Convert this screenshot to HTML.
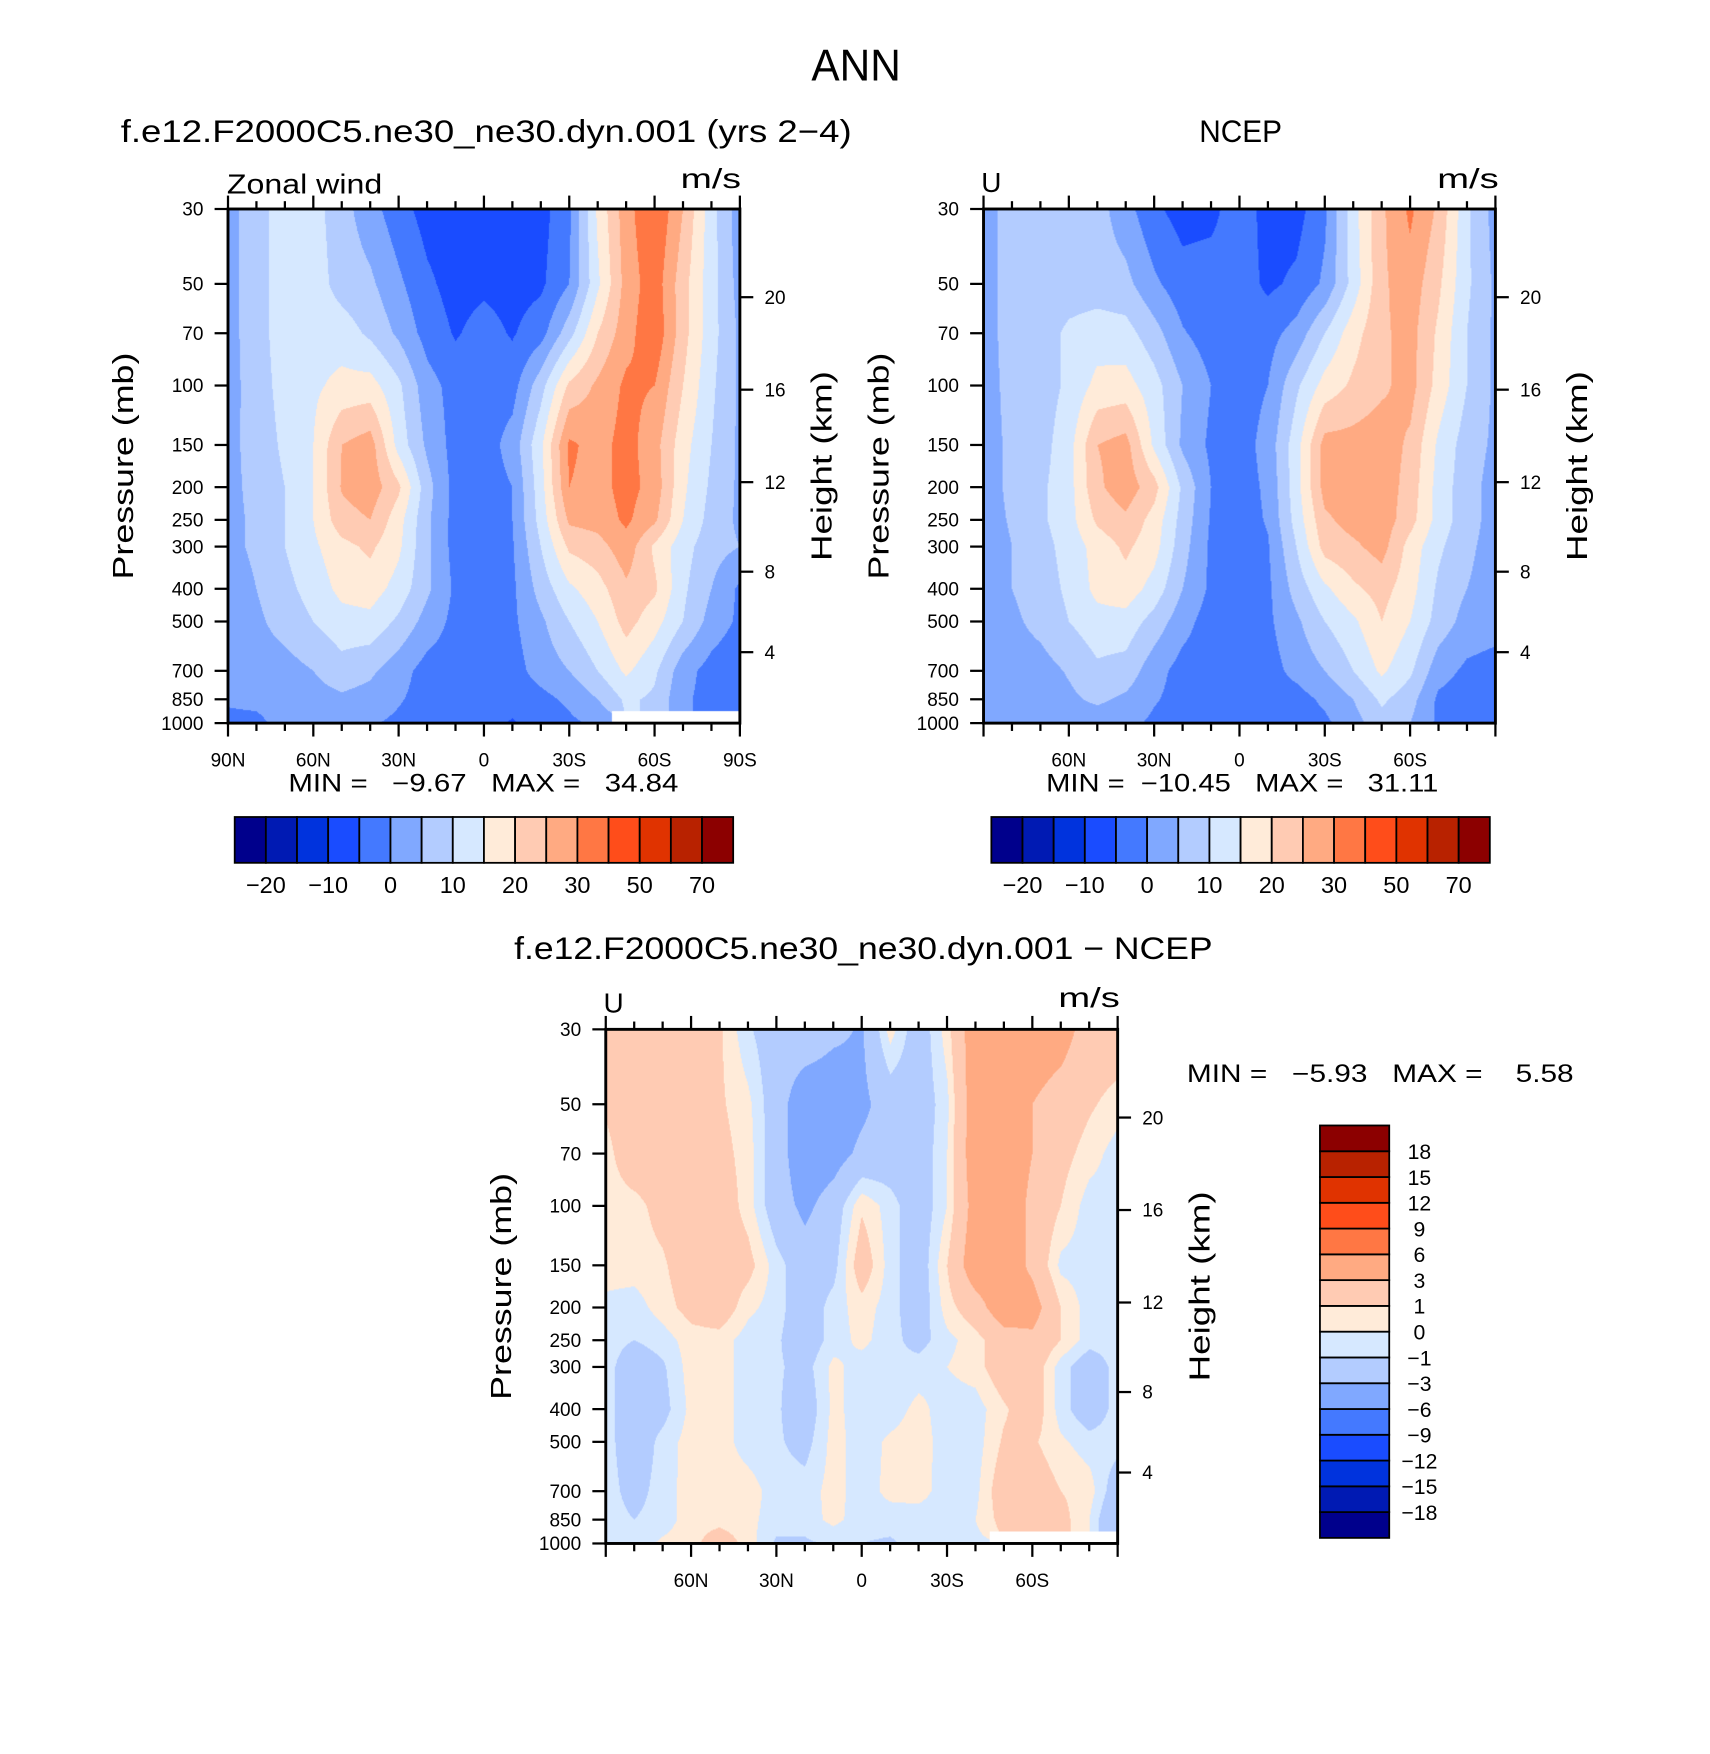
<!DOCTYPE html>
<html><head><meta charset="utf-8">
<style>
html,body{margin:0;padding:0;background:#fff;width:1710px;height:1753px;overflow:hidden}
#stage{position:absolute;left:0;top:0;width:1530px;height:1569px;transform:scale(1.117647);transform-origin:0 0}
canvas{position:absolute}
svg{position:absolute;left:0;top:0}
text{font-family:"Liberation Sans",sans-serif;fill:#000}
</style></head>
<body>
<div id="stage">
<canvas id="cv1" width="512" height="514" style="left:204px;top:187px;width:458px;height:460px"></canvas>
<canvas id="cv2" width="512" height="514" style="left:880px;top:187px;width:458px;height:460px"></canvas>
<canvas id="cv3" width="512" height="514" style="left:542px;top:921px;width:458px;height:460px"></canvas>
<svg id="svg" width="1530" height="1569" viewBox="0 0 1530 1569">
<text x="766" y="72" font-size="40" text-anchor="middle" textLength="80" lengthAdjust="spacingAndGlyphs">ANN</text>
<text x="108" y="127" font-size="28" textLength="654" lengthAdjust="spacingAndGlyphs">f.e12.F2000C5.ne30_ne30.dyn.001 (yrs 2−4)</text>
<text x="1073" y="127" font-size="28" textLength="74" lengthAdjust="spacingAndGlyphs">NCEP</text>
<text x="460" y="858" font-size="28" textLength="625" lengthAdjust="spacingAndGlyphs">f.e12.F2000C5.ne30_ne30.dyn.001 − NCEP</text>
<text x="203" y="173" font-size="25" textLength="139" lengthAdjust="spacingAndGlyphs">Zonal wind</text>
<text x="609" y="168" font-size="25" textLength="54" lengthAdjust="spacingAndGlyphs">m/s</text>
<text x="878" y="172" font-size="25">U</text>
<text x="1286" y="168" font-size="25" textLength="55" lengthAdjust="spacingAndGlyphs">m/s</text>
<text x="540" y="906" font-size="25">U</text>
<text x="947" y="901" font-size="25" textLength="55" lengthAdjust="spacingAndGlyphs">m/s</text>
<text x="258" y="708" font-size="22" textLength="349" lengthAdjust="spacingAndGlyphs" style="white-space:pre">MIN =   −9.67   MAX =   34.84</text>
<text x="936" y="708" font-size="22" textLength="351" lengthAdjust="spacingAndGlyphs" style="white-space:pre">MIN =  −10.45   MAX =   31.11</text>
<text x="1062" y="968" font-size="22" textLength="346" lengthAdjust="spacingAndGlyphs" style="white-space:pre">MIN =   −5.93   MAX =    5.58</text>
</svg>
</div>
<script>
// ---------- data ----------
const lats = [90,80,70,60,50,40,30,20,10,0,-10,-20,-30,-40,-50,-60,-70,-80,-90];
const pressures = [30,50,70,100,150,200,250,300,400,500,700,850,1000];
const pressureTickLabels = [30,50,70,100,150,200,250,300,400,500,700,850,1000];
const heightTicks = [4,8,12,16,20];
const latTicks = [90,60,30,0,-30,-60,-90];
const latTickLabels = ["90N","60N","30N","0","30S","60S","90S"];
const fullLevels = [-20,-15,-10,-5,0,5,10,15,20,25,30,40,50,60,70];
const fullLevelLabels = ["−20","−10","0","10","20","30","50","70"];
const diffLevels = [-18,-15,-12,-9,-6,-3,-1,0,1,3,6,9,12,15,18];
const diffLevelLabels = ["−18","−15","−12","−9","−6","−3","−1","0","1","3","6","9","12","15","18"];
const palette = ["#00008C","#001AB3","#0033DD","#1A4CFF","#4479FF","#80A8FF","#B3CCFF","#D6E8FF","#FFEBD9","#FFCBB3","#FFAA82","#FF7744","#FF4D1A","#E03300","#B82200","#8C0000"];

const modelU = [
 [3,8,12.5,12,7,2,-3,-7,-8,-8,-8,-7,-1,16,28,35,25,12,2],
 [3,8,12.5,12.5,8,6,1,-4,-7,-6,-7,-6,0,14,27,33,22,12,3],
 [3,8,12.5,13,12.5,9,4,-2,-5.5,-3,-5.5,-2,8,20,28,34,22,12,4],
 [3,7.5,12,14,16.5,17,11,2,-2,-2.5,-2,8,21,26,31,30,20,11,4],
 [3.5,7,11,15,25,27.5,13,4,-2,-2.5,2,14,31,28,32,27,17,10,4],
 [3.5,6.5,10,15,25.5,28,21,7,-2,-2.5,0,13,30,28,32,28,16,9,4],
 [3.5,6,10,15,23,25,17,6,-2,-2.5,0,12,26,27,31,26,15,8,4],
 [3.5,6,10,14,18.5,21,16,6,-2,-2.5,-0.5,10,21,23,28,19,12,7,5],
 [2,5,8.5,12,16.5,17.5,13,6,-1,-2.5,-1,7,14,18,24,21,11,5,-1],
 [1.5,4,7,10,13,13.5,9,3,-1.5,-2.5,-1,4,10,15,22,17,10,3,-1],
 [1,2.5,3,5,8,6,2,-2,-2.5,-2.5,-2,2,5,10,16,11,2,-2,-4],
 [0.5,1,2,3,4,3,0.5,-2,-3,-3,-3,-1.5,1,5,11,9,1,-2,-5],
 [-1,-1,1.5,2,1,0.5,-1,-3,-3,-3,-5.5,-3,-1,1,null,null,null,null,null]
];
const ncepU = [
 [3,7,7.5,7.5,7,2,-4,-7,-6.5,-2,-7,-7,-1,13,24,31,24,11,3],
 [3,7,7.5,7.5,7.5,6.5,1,-3,-2.5,-2.5,-6,-4,1,12,24,28,21,11,4],
 [3,7,7.5,11,12.5,12,7,0.5,-2.5,-2.5,-2,2,10,18,24,27,19,10,4],
 [3,6.5,7.5,11,16.5,17,12,5,0,-2.5,0,9,17,21,24,27,18,10,4],
 [3,6,8,13,25,27,14,4,-1,-2.5,2,13,27,27,28,24,14,7.5,4],
 [3,6,9,13,24,28,22,9,0,-2.5,1,13,27,28,28,23,13,7,3],
 [3,5.5,9,13,21,24,18,8,-0.5,-2.5,0.5,12,24,27,28,22,13,7,3],
 [2.5,5,8,12,17,21,17,7,-1,-2.5,-0.5,10,22,24,27,18,11,6,3],
 [2,5,7.5,11,16.5,18,13,5,-1,-2.5,-1,7,14,19,22,17,9,5,3],
 [2,4,6.5,10,13,13,8,2,-2.5,-2.5,-1,4,10,14,20,15,8,3,2],
 [2,2.5,3,5.5,9,8,2,-2,-3,-2,-2,1.5,5,10,16,11,2,-1,-2],
 [2,2.5,3,4,6,4,0.5,-2,-2.5,-2.5,-2.5,-2,1,5,11,7,-1,-2.5,-3],
 [1,1.5,2,2,2,1.5,-1,-2.5,-2.5,-2.5,-3,-2.5,-1,3,8,5,-1,-2.5,-3]
];
const diffU = [
 [2,2,2,2,1.2,-0.8,-2,-1.5,-2.5,-3.2,0.5,-2,0.5,4.5,4.5,4.5,4,2,2],
 [1.2,2,2,2,1.2,0.3,-2,-4.5,-4.5,-3.5,-2,-2,-0.3,4.5,4.5,3,2,1.2,0.5],
 [0.6,2,2,2,1.5,0.5,-2,-4.5,-4,-2.5,-2,-2,0,4.5,4.5,3,1.5,0.5,-0.5],
 [0.5,0.6,1.5,2,2,0.5,-2,-3.5,-2,0.8,-0.5,-2,0,4,4.5,2.5,1,-0.5,-0.5],
 [0.5,0.5,0.8,2,2,1.5,-0.5,-2,-1.5,2,-0.5,-2,1,4.5,4.5,2.5,-0.3,-0.5,-0.5],
 [-0.3,-0.5,0.5,1.5,2,0.3,-0.5,-2,-0.5,0.5,-0.5,-2,0.5,2,4.5,4,1,-0.5,-0.5],
 [-0.5,-1,-0.5,0.5,0.5,-0.5,-0.8,-2,-0.5,0.3,-0.6,-1.5,-0.3,0.5,2,2.5,1,-0.5,-0.5],
 [-0.5,-2,-1.2,0.5,0.5,-0.5,-0.8,-1.5,0.3,-0.5,-0.8,-0.5,0,0.5,2,2,-0.5,-2,-0.5],
 [-0.5,-2,-1.5,0.3,0.5,-0.5,-0.8,-2,0.3,-0.5,-0.5,0.3,-0.5,-0.5,0.8,2,-0.5,-2,-0.5],
 [-0.5,-2,-0.6,0.5,0.5,-0.5,-0.8,-1.5,0.4,-0.5,0.2,0.5,-0.5,-0.5,1.2,1.2,0.2,-0.5,-0.5],
 [-0.5,-1.5,-0.5,0.5,0.6,0.5,-0.5,-0.5,0.4,-0.5,0.3,0.4,-0.5,-0.3,2,2,1,0.5,-2],
 [-0.5,-1,-0.5,0.5,0.5,0.3,-0.5,-0.5,0.3,-0.5,-0.5,-0.5,-0.5,0,1.5,2,1.5,0,-3],
 [-0.5,-0.5,0.2,0.5,2,0.5,-1.2,-1.2,-0.8,-1,-1.2,-0.5,-0.5,-0.3,null,null,null,null,null]
];

// ---------- axis functions ----------
const P1 = {x:204,y:187,w:458,h:460};
const P2 = {x:880,y:187,w:458,h:460};
const P3 = {x:542,y:921,w:458,h:460};
const LN = Math.log(1000/30);
function yP(p, pl){ return pl.y + Math.log(p/30)/LN*pl.h; }
function xLat(lat, pl){ return pl.x + (90-lat)/180*pl.w; }
function stdP(zkm){ const z=zkm*1000; if(z<=11000) return 1013.25*Math.pow(1-0.0065*z/288.15,5.2559); return 226.32*Math.exp(-(z-11000)/6341.6); }
function levelIndex(v, levels){ let k=0; while(k<levels.length && v>=levels[k]) k++; return k; }

// ---------- field rendering ----------
function hexRGB(h){ return [parseInt(h.substr(1,2),16),parseInt(h.substr(3,2),16),parseInt(h.substr(5,2),16)]; }
const rgbPal = palette.map(hexRGB);
function drawField(id, data, levels){
  const cv=document.getElementById(id), ctx=cv.getContext('2d');
  const W=cv.width, H=cv.height, img=ctx.createImageData(W,H);
  const lp=pressures.map(p=>Math.log(p)), nc=lats.length-1;
  for(let py=0;py<H;py++){
    const lnp=Math.log(30)+(py+0.5)/H*LN;
    let r=0; while(r<lp.length-2 && lnp>lp[r+1]) r++;
    const t=Math.min(1,Math.max(0,(lnp-lp[r])/(lp[r+1]-lp[r])));
    for(let px=0;px<W;px++){
      const u=(px+0.5)/W*nc; let c=Math.min(nc-1,Math.floor(u)); const a=u-c;
      const near=data[t<0.5?r:r+1][a<0.5?c:c+1];
      const o=(py*W+px)*4;
      if(near===null){ img.data[o]=255;img.data[o+1]=255;img.data[o+2]=255;img.data[o+3]=255; continue; }
      const vs=[[data[r][c],(1-a)*(1-t)],[data[r][c+1],a*(1-t)],[data[r+1][c],(1-a)*t],[data[r+1][c+1],a*t]];
      let s=0,w=0; for(const [v,wt] of vs){ if(v!==null){ s+=v*wt; w+=wt; } }
      const col=rgbPal[levelIndex(s/w, levels)];
      img.data[o]=col[0];img.data[o+1]=col[1];img.data[o+2]=col[2];img.data[o+3]=255;
    }
  }
  ctx.putImageData(img,0,0);
}
drawField('cv1', modelU, fullLevels);
drawField('cv2', ncepU, fullLevels);
drawField('cv3', diffU, diffLevels);

// ---------- svg helpers ----------
const svg=document.getElementById('svg'), NS='http://www.w3.org/2000/svg';
function mk(tag, attrs, parent){ const e=document.createElementNS(NS,tag); for(const k in attrs) e.setAttribute(k,attrs[k]); (parent||svg).appendChild(e); return e; }
function line(x1,y1,x2,y2,w,name){
  const e=mk('line',{x1:x1,y1:y1,x2:x2,y2:y2,stroke:'#000','stroke-width':w});
  
  
  return e;
}
function txt(x,y,s,size,anchor,name){
  const e=mk('text',{x:x,y:y,'font-size':size,'text-anchor':anchor});
  e.textContent=s;
  
  
  return e;
}

function drawAxes(pl, key, showEnds){
  const g=mk('g',{});
  
  
  const fr=mk('rect',{x:pl.x,y:pl.y,width:pl.w,height:pl.h,fill:'none',stroke:'#000','stroke-width':2.6},g);
  
  
  for(let lat=90; lat>=-90; lat-=10){
    const x=xLat(lat,pl), major=(lat%30===0), L=major?12:7;
    g.appendChild(line(x,pl.y,x,pl.y-L,2,key+'-top-tick'));
    g.appendChild(line(x,pl.y+pl.h,x,pl.y+pl.h+L,2,key+'-bottom-tick'));
  }
  latTicks.forEach((lat,i)=>{
    if(!showEnds && Math.abs(lat)===90) return;
    g.appendChild(txt(xLat(lat,pl), pl.y+pl.h+39, latTickLabels[i], 17, 'middle', key+'-lat-label'));
  });
  pressureTickLabels.forEach(p=>{
    const y=yP(p,pl);
    g.appendChild(line(pl.x-12,y,pl.x,y,2,key+'-pressure-tick'));
    g.appendChild(txt(pl.x-22, y+6, String(p), 17, 'end', key+'-pressure-label'));
  });
  heightTicks.forEach(z=>{
    const y=yP(stdP(z),pl);
    g.appendChild(line(pl.x+pl.w,y,pl.x+pl.w+12,y,2,key+'-height-tick'));
    g.appendChild(txt(pl.x+pl.w+22, y+6, String(z), 17, 'start', key+'-height-label'));
  });
  const cy=pl.y+pl.h/2;
  const t1=txt(pl.x-94, cy, 'Pressure (mb)', 26, 'middle', key+'-y-axis-title');
  t1.setAttribute('transform','rotate(-90 '+(pl.x-94)+' '+cy+')');
  t1.setAttribute('textLength','203'); t1.setAttribute('lengthAdjust','spacingAndGlyphs');
  t1.setAttribute('y', cy+9);
  const hx=pl.x+pl.w+73;
  const t2=txt(hx, cy+9, 'Height (km)', 26, 'middle', key+'-right-axis-title');
  t2.setAttribute('transform','rotate(-90 '+hx+' '+cy+')');
  t2.setAttribute('textLength','170'); t2.setAttribute('lengthAdjust','spacingAndGlyphs');
}
drawAxes(P1,'model',true);
drawAxes(P2,'ncep',false);
drawAxes(P3,'difference',false);

// ---------- colorbars ----------
function hBar(x0, key){
  const y0=731, w=446, h=41, n=palette.length, bw=w/n;
  palette.forEach((c,i)=>{
    const r=mk('rect',{x:x0+i*bw,y:y0,width:bw,height:h,fill:c,stroke:'#000','stroke-width':1.6});
    
    
  });
  fullLevelLabels.forEach((s,i)=>{
    txt(x0+(2*i+1)*bw, 799, s, 21, 'middle', key+'-colorbar-label');
  });
}
hBar(210,'model');
hBar(887,'ncep');
(function vBar(){
  const x0=1181, yb=1376, w=62, h=369, n=palette.length, bh=h/n;
  palette.forEach((c,i)=>{
    const r=mk('rect',{x:x0,y:yb-(i+1)*bh,width:w,height:bh,fill:c,stroke:'#000','stroke-width':1.6});
    
    
  });
  diffLevelLabels.forEach((s,i)=>{
    txt(1270, yb-(i+1)*bh+7, s, 19, 'middle', 'difference-colorbar-label');
  });
})();
</script>
</body></html>
